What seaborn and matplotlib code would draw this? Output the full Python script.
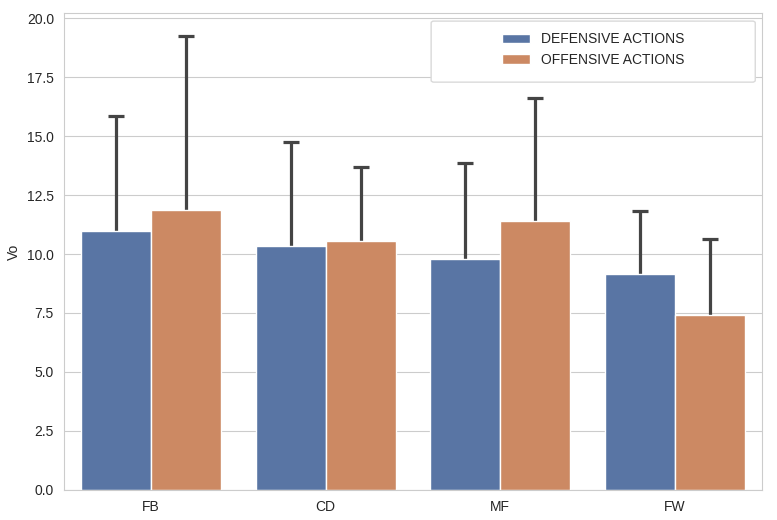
import seaborn as sns
import matplotlib.pyplot as plt
import pandas as pd
from matplotlib.patches import FancyBboxPatch

positions = ['FB', 'CD', 'MF', 'FW']
actions = ['DEFENSIVE ACTIONS', 'OFFENSIVE ACTIONS']
defensive_mean = [10.97, 10.33, 9.78, 9.14]
defensive_sd = [4.90, 4.42, 4.07, 2.68]
offensive_mean = [11.86, 10.54, 11.39, 7.40]
offensive_sd = [7.40, 3.15, 5.24, 3.24]

df = pd.DataFrame({
    'position': positions * 2,
    'action': [actions[0]] * 4 + [actions[1]] * 4,
    'Vo': defensive_mean + offensive_mean,
    'sd': defensive_sd + offensive_sd,
})

sns.set_style('whitegrid')
plt.rcParams['font.family'] = ['Liberation Sans', 'DejaVu Sans']

fig, ax = plt.subplots(figsize=(7.77, 5.2), dpi=100)
sns.barplot(data=df, x='position', y='Vo', hue='action', errorbar=None,
            palette='deep', ax=ax)

# error bars drawn behind the bars so only the upper half shows
for container, action in zip(ax.containers, actions):
    sub = df[df['action'] == action]
    xs = [b.get_x() + b.get_width() / 2 for b in container]
    tops = [b.get_height() for b in container]
    ax.errorbar(xs, tops, yerr=sub['sd'].tolist(), fmt='none',
                ecolor='#444444', elinewidth=2.3, capsize=6, capthick=2.3, zorder=0.9)
for b in ax.patches:
    b.set_zorder(1)

ax.set_xlim(-0.5, len(positions) - 0.5)
ax.set_xlabel('')
ax.set_ylabel('Vo')

leg = ax.legend(loc='center', bbox_to_anchor=(0.758, 0.923), frameon=False, fontsize=10)
leg.set_zorder(5)
frame = FancyBboxPatch((0.526, 0.855), 0.464, 0.128, transform=ax.transAxes,
                       boxstyle='round,pad=0,rounding_size=0.004',
                       facecolor='white', edgecolor='0.85', linewidth=1, zorder=4)
ax.add_patch(frame)

plt.subplots_adjust(left=0.082, right=0.981, bottom=0.058, top=0.975)
plt.savefig('out.png', dpi=100)
